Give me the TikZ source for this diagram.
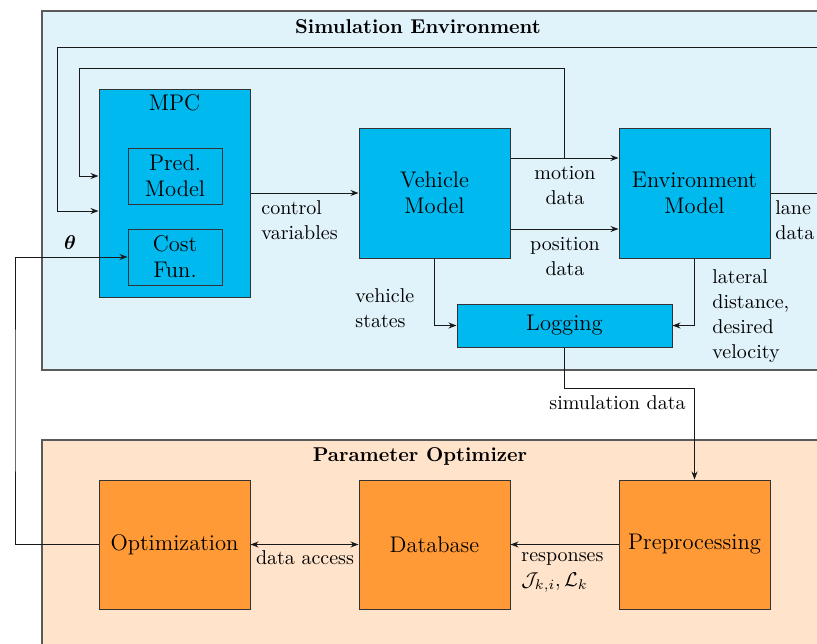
\documentclass[tikz,border=0pt]{standalone}
\usepackage{bm}
\usetikzlibrary{arrows.meta,calc}
\definecolor{simpanel}{HTML}{E0F2FA}
\definecolor{simblue}{HTML}{00B9EF}
\definecolor{optpanel}{HTML}{FFE4CB}
\definecolor{optorange}{HTML}{FF9A36}
\definecolor{edgegrey}{HTML}{5A5A5A}
\newcommand{\blockfont}{\fontsize{11.3}{13}\selectfont}
\newcommand{\lblfont}{\fontsize{10}{12.5}\selectfont}
\tikzset{
  >={Stealth[length=4pt,width=3pt]},
  panel/.style={draw=edgegrey,line width=0.6pt},
  paneltitle/.style={font=\bfseries,inner sep=0pt},
  block/.style={draw=black!80,line width=0.5pt,align=center,font=\blockfont,
                inner sep=2pt,minimum width=75.5pt,minimum height=65pt},
  simblock/.style={block,fill=simblue},
  optblock/.style={block,fill=optorange},
  flow/.style={->,line width=0.5pt,draw=black!90},
  flowlbl/.style={font=\lblfont,inner sep=0pt,align=left},
}

\begin{document}
\begin{tikzpicture}[x=0.5pt,y=-0.5pt]
  \clip (0,0) rectangle (817,643);

  % ===== panels =====
  \draw[panel,fill=simpanel] (42,11) rectangle (900,370);
  \draw[panel,fill=optpanel] (42,440) rectangle (900,700);
  \node[paneltitle] (simtitle) at (418,27) {Simulation Environment};
  \node[paneltitle] (opttitle) at (420,456) {Parameter Optimizer};

  % ===== simulation environment =====
  \node[simblock,minimum height=104pt] (mpc) at (174.5,193) {};
  \node[font=\blockfont,anchor=north,inner sep=3pt] (mpclbl) at (mpc.north) {MPC};
  \node[simblock,minimum width=47pt,minimum height=28pt] (pred) at (175,176) {Pred.\\Model};
  \node[simblock,minimum width=47pt,minimum height=28pt] (cost) at (175,257) {Cost\\Fun.};
  \node[simblock] (veh) at (434.5,193) {Vehicle\\Model};
  \node[simblock] (env) at (694.5,193) {Environment\\Model};
  \node[simblock,minimum width=107.5pt,minimum height=21.5pt] (log) at (564.5,325.5) {Logging};

  % ===== parameter optimizer =====
  \node[optblock,minimum height=64.5pt] (opt) at (174.5,544.5) {Optimization};
  \node[optblock,minimum height=64.5pt] (db) at (434.5,544.5) {Database};
  \node[optblock,minimum height=64.5pt] (prep) at (694.5,544.5) {Preprocessing};

  % ===== signal flow inside the simulation =====
  \draw[flow] (mpc) -- (veh);
  \coordinate (motA) at ([yshift=17.5pt]veh.east);
  \coordinate (motB) at (motA -| env.west);
  \draw[flow] (motA) -- (motB);
  \draw[flow] ([yshift=-18pt]veh.east) -- ([yshift=-18pt]env.west);
  \draw[flow] (veh.south) |- (log.west);
  \draw[flow] (env.south) |- (log.east);

  % feedback to the MPC (motion data and lane data)
  \coordinate (fbinner) at (79,68);
  \draw[flow] ($(motA)!0.5!(motB)$) |- (fbinner) |- ([yshift=8.5pt]mpc.west);
  \coordinate (fbright) at (860,47);
  \coordinate (fbouter) at (57,47);
  \draw[flow] (env.east) -| (fbright) -- (fbouter) |- ([yshift=-9pt]mpc.west);

  % ===== between the panels =====
  \coordinate (simbend) at (564.5,388);
  \draw[flow] (log.south) -- (simbend) -| (prep.north);
  \draw[flow] (prep) -- (db);
  \draw[flow,<->] (opt) -- (db);
  \coordinate (thbend) at (15,400);
  \draw[flow] (opt.west) -| (thbend) |- (cost.west);

  % ===== labels =====
  \node[flowlbl,anchor=west] (ctrllbl) at (261,220.5) {control\\variables};
  \node[flowlbl,align=center] (motlbl) at (565,185.5) {motion\\data};
  \node[flowlbl,align=center] (poslbl) at (565,256.5) {position\\data};
  \node[flowlbl,anchor=west] (lanelbl) at (775,220) {lane\\data};
  \node[flowlbl,anchor=west] (vstlbl) at (355,308) {vehicle\\states};
  \node[flowlbl,anchor=west] (latlbl) at (712,316.5) {lateral\\distance,\\desired\\velocity};
  \node[flowlbl,anchor=east] (simlbl) at (686,403) {simulation data};
  \node[flowlbl] (acclbl) at (305,558) {data access};
  \node[flowlbl,anchor=west] (resplbl) at (521,572) {responses\\$\mathcal{J}_{k,i}, \mathcal{L}_k$};
  \node[inner sep=0pt] (thetalbl) at (70,243) {$\bm{\theta}$};
\end{tikzpicture}
\end{document}
